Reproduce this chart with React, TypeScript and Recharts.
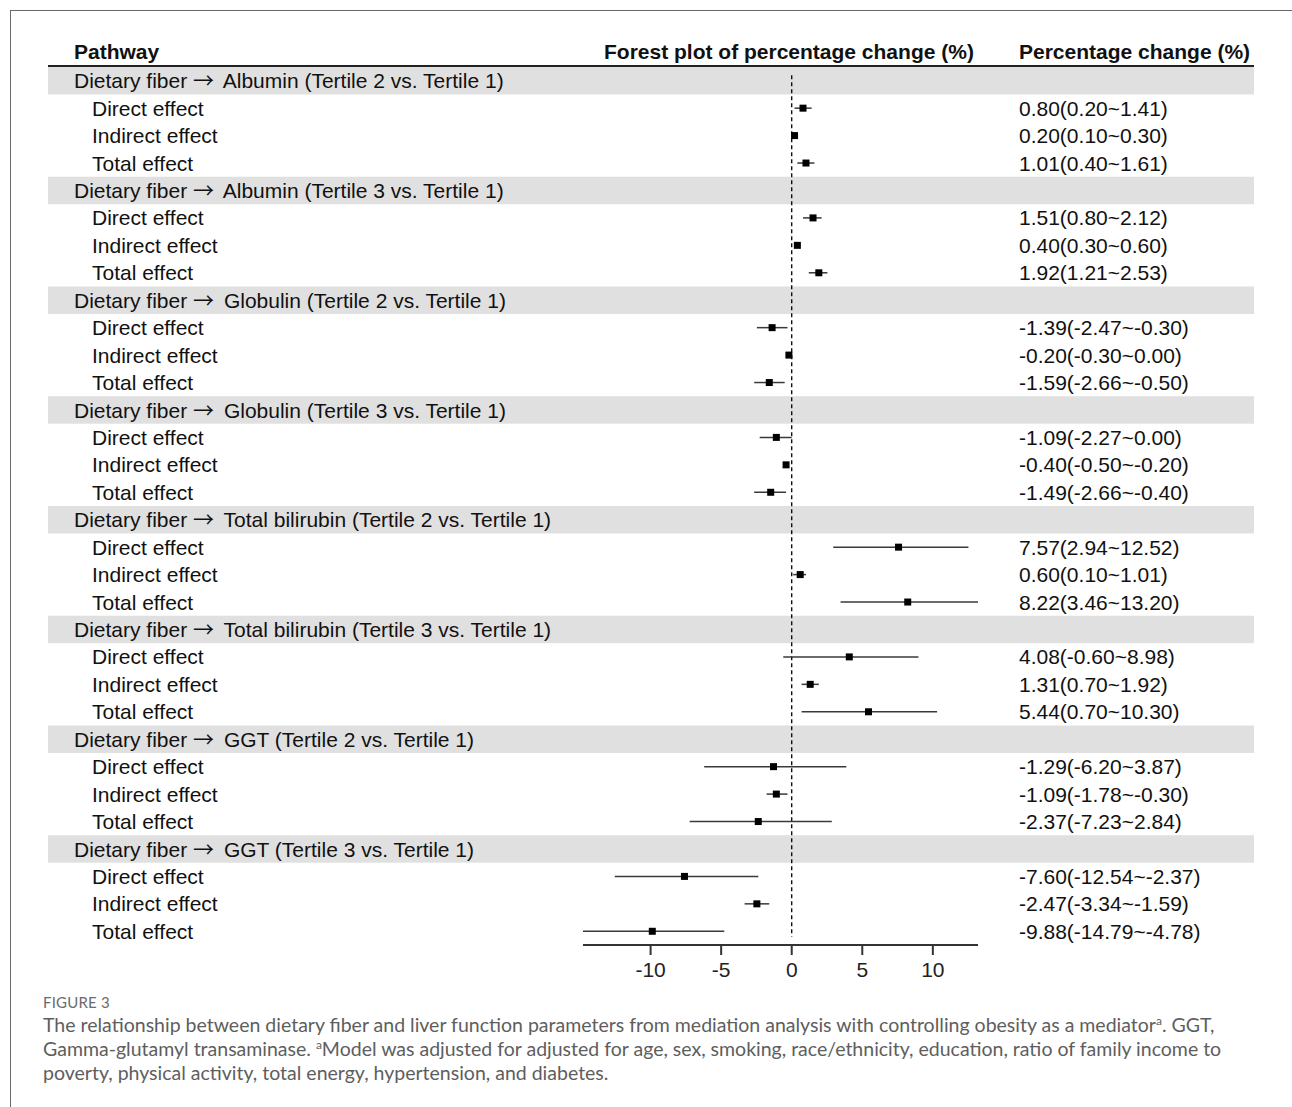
import {
  ErrorBar,
  ReferenceArea,
  ReferenceLine,
  Scatter,
  ScatterChart,
  XAxis,
  YAxis,
} from 'recharts'

const outcomes = ['Albumin', 'Albumin', 'Globulin', 'Globulin', 'Total bilirubin', 'Total bilirubin', 'GGT', 'GGT']
const contrasts = [
  'Tertile 2 vs. Tertile 1',
  'Tertile 3 vs. Tertile 1',
  'Tertile 2 vs. Tertile 1',
  'Tertile 3 vs. Tertile 1',
  'Tertile 2 vs. Tertile 1',
  'Tertile 3 vs. Tertile 1',
  'Tertile 2 vs. Tertile 1',
  'Tertile 3 vs. Tertile 1',
]
const effects = ['Direct effect', 'Indirect effect', 'Total effect']

// per pathway: direct, indirect, total
const estimate = [
  0.8, 0.2, 1.01,
  1.51, 0.4, 1.92,
  -1.39, -0.2, -1.59,
  -1.09, -0.4, -1.49,
  7.57, 0.6, 8.22,
  4.08, 1.31, 5.44,
  -1.29, -1.09, -2.37,
  -7.6, -2.47, -9.88,
]
const lower = [
  0.2, 0.1, 0.4,
  0.8, 0.3, 1.21,
  -2.47, -0.3, -2.66,
  -2.27, -0.5, -2.66,
  2.94, 0.1, 3.46,
  -0.6, 0.7, 0.7,
  -6.2, -1.78, -7.23,
  -12.54, -3.34, -14.79,
]
const upper = [
  1.41, 0.3, 1.61,
  2.12, 0.6, 2.53,
  -0.3, 0.0, -0.5,
  0.0, -0.2, -0.4,
  12.52, 1.01, 13.2,
  8.98, 1.92, 10.3,
  3.87, -0.3, 2.84,
  -2.37, -1.59, -4.78,
]
const xTicks = [-10, -5, 0, 5, 10]

const FONT = '"Liberation Sans", Arial, sans-serif'
const CAP_FONT = 'Lato, "Open Sans", sans-serif'
const CHART_W = 1206
const CHART_H = 923
const LEFT_W = 535
const RIGHT_W = 276
const BAND = '#e0e0e0'

type Row = { row: number; group: boolean; outcome?: string; contrast?: string; label?: string; ci?: string }

const fmt = (v: number) => v.toFixed(2)

const rows: Row[] = []
const points: { x: number; y: number; err: [number, number] }[] = []
outcomes.forEach((o, g) => {
  rows.push({ row: rows.length, group: true, outcome: o, contrast: contrasts[g] })
  effects.forEach((e, k) => {
    const i = g * 3 + k
    const r = rows.length
    rows.push({
      row: r,
      group: false,
      label: e,
      ci: `${fmt(estimate[i])}(${fmt(lower[i])}~${fmt(upper[i])})`,
    })
    points.push({ x: estimate[i], y: r, err: [estimate[i] - lower[i], upper[i] - estimate[i]] })
  })
})
const nRows = rows.length
const xMin = Math.min(...lower)
const xMax = Math.max(...upper)

// draws both the label column and the percentage-change column
function RowTick({ y, payload }: any) {
  const r = rows[payload.value]
  if (!r) return null
  if (r.group) {
    return (
      <text x={26} y={y} dy="0.36em" fontSize={21} fill="#111" fontFamily={FONT}>
        Dietary fiber{' '}
        <tspan fontFamily='"Noto Sans CJK SC", "DejaVu Sans", sans-serif' fontSize={21}>
          →
        </tspan>{'  '}
        <tspan dx={4}>{r.outcome} ({r.contrast})</tspan>
      </text>
    )
  }
  return (
    <g>
      <text x={44} y={y} dy="0.36em" fontSize={21} fill="#111" fontFamily={FONT}>
        {r.label}
      </text>
      <text x={971} y={y} dy="0.36em" fontSize={21} fill="#111" fontFamily={FONT}>
        {r.ci}
      </text>
    </g>
  )
}

const Square = (p: any) => <rect x={p.cx - 3.5} y={p.cy - 3.5} width={7} height={7} fill="#000" />

const sup = <sup style={{ fontSize: 12, lineHeight: 0 }}>a</sup>

export default function App() {
  return (
    <div
      style={{
        position: 'absolute',
        left: 0,
        top: 0,
        width: 1292,
        height: 1107,
        overflow: 'hidden',
        background: '#fff',
        fontFamily: FONT,
      }}
    >
      <div
        style={{
          position: 'absolute',
          left: 10,
          top: 10,
          width: 1400,
          height: 1200,
          border: '1px solid #6a6a6a',
        }}
      />
      <div style={{ position: 'absolute', left: 74, top: 40, fontSize: 21, fontWeight: 700, color: '#111' }}>Pathway</div>
      <div style={{ position: 'absolute', left: 604, top: 40, fontSize: 21, fontWeight: 700, color: '#111' }}>
        Forest plot of percentage change (%)
      </div>
      <div style={{ position: 'absolute', left: 1019, top: 40, fontSize: 21, fontWeight: 700, color: '#111' }}>
        Percentage change (%)
      </div>
      <div style={{ position: 'absolute', left: 48, top: 65, width: CHART_W, height: 2, background: '#222' }} />

      <div style={{ position: 'absolute', left: 48, top: 67 }}>
        <ScatterChart width={CHART_W} height={CHART_H} margin={{ top: 0, right: RIGHT_W, bottom: 0, left: 0 }}>
          {rows
            .filter((r) => r.group)
            .map((r) => (
              <ReferenceArea
                key={r.row}
                y1={r.row - 0.5}
                y2={r.row + 0.5}
                ifOverflow="visible"
                shape={(p: any) => <rect x={0} y={p.y} width={CHART_W} height={p.height} fill={BAND} />}
              />
            ))}
          <XAxis
            type="number"
            dataKey="x"
            domain={[xMin, xMax]}
            allowDataOverflow
            ticks={xTicks}
            height={45}
            tickSize={10}
            tickMargin={7}
            axisLine={{ stroke: '#333', strokeWidth: 2 }}
            tickLine={{ stroke: '#333', strokeWidth: 2 }}
            tick={{ fontSize: 21, fill: '#222', fontFamily: FONT }}
          />
          <YAxis
            type="number"
            dataKey="y"
            domain={[-0.5, nRows - 0.5]}
            reversed
            width={LEFT_W}
            ticks={rows.map((r) => r.row)}
            interval={0}
            axisLine={false}
            tickLine={false}
            tick={<RowTick />}
          />
          <ReferenceLine
            segment={[
              { x: 0, y: -0.2 },
              { x: 0, y: nRows - 0.8 },
            ]}
            stroke="#000"
            strokeWidth={1.3}
            strokeDasharray="4 3"
          />
          <Scatter data={points} shape={Square} isAnimationActive={false}>
            <ErrorBar dataKey="err" direction="x" width={0} stroke="#3a3a3a" strokeWidth={1.5} isAnimationActive={false} />
          </Scatter>
        </ScatterChart>
      </div>

      <div
        style={{
          position: 'absolute',
          left: 43,
          top: 993,
          fontFamily: CAP_FONT,
          fontSize: 15,
          color: '#6b6b6b',
          letterSpacing: 0.2,
        }}
      >
        FIGURE 3
      </div>
      <div
        style={{
          position: 'absolute',
          left: 43,
          top: 1013,
          width: 1240,
          whiteSpace: 'nowrap',
          fontFamily: CAP_FONT,
          fontSize: 19.5,
          lineHeight: '24px',
          color: '#5e5e5e',
        }}
      >
        The relationship between dietary fiber and liver function parameters from mediation analysis with controlling
        obesity as a mediator{sup}. GGT,
        <br />
        Gamma-glutamyl transaminase. {sup}Model was adjusted for adjusted for age, sex, smoking, race/ethnicity,
        education, ratio of family income to
        <br />
        poverty, physical activity, total energy, hypertension, and diabetes.
      </div>
    </div>
  )
}
